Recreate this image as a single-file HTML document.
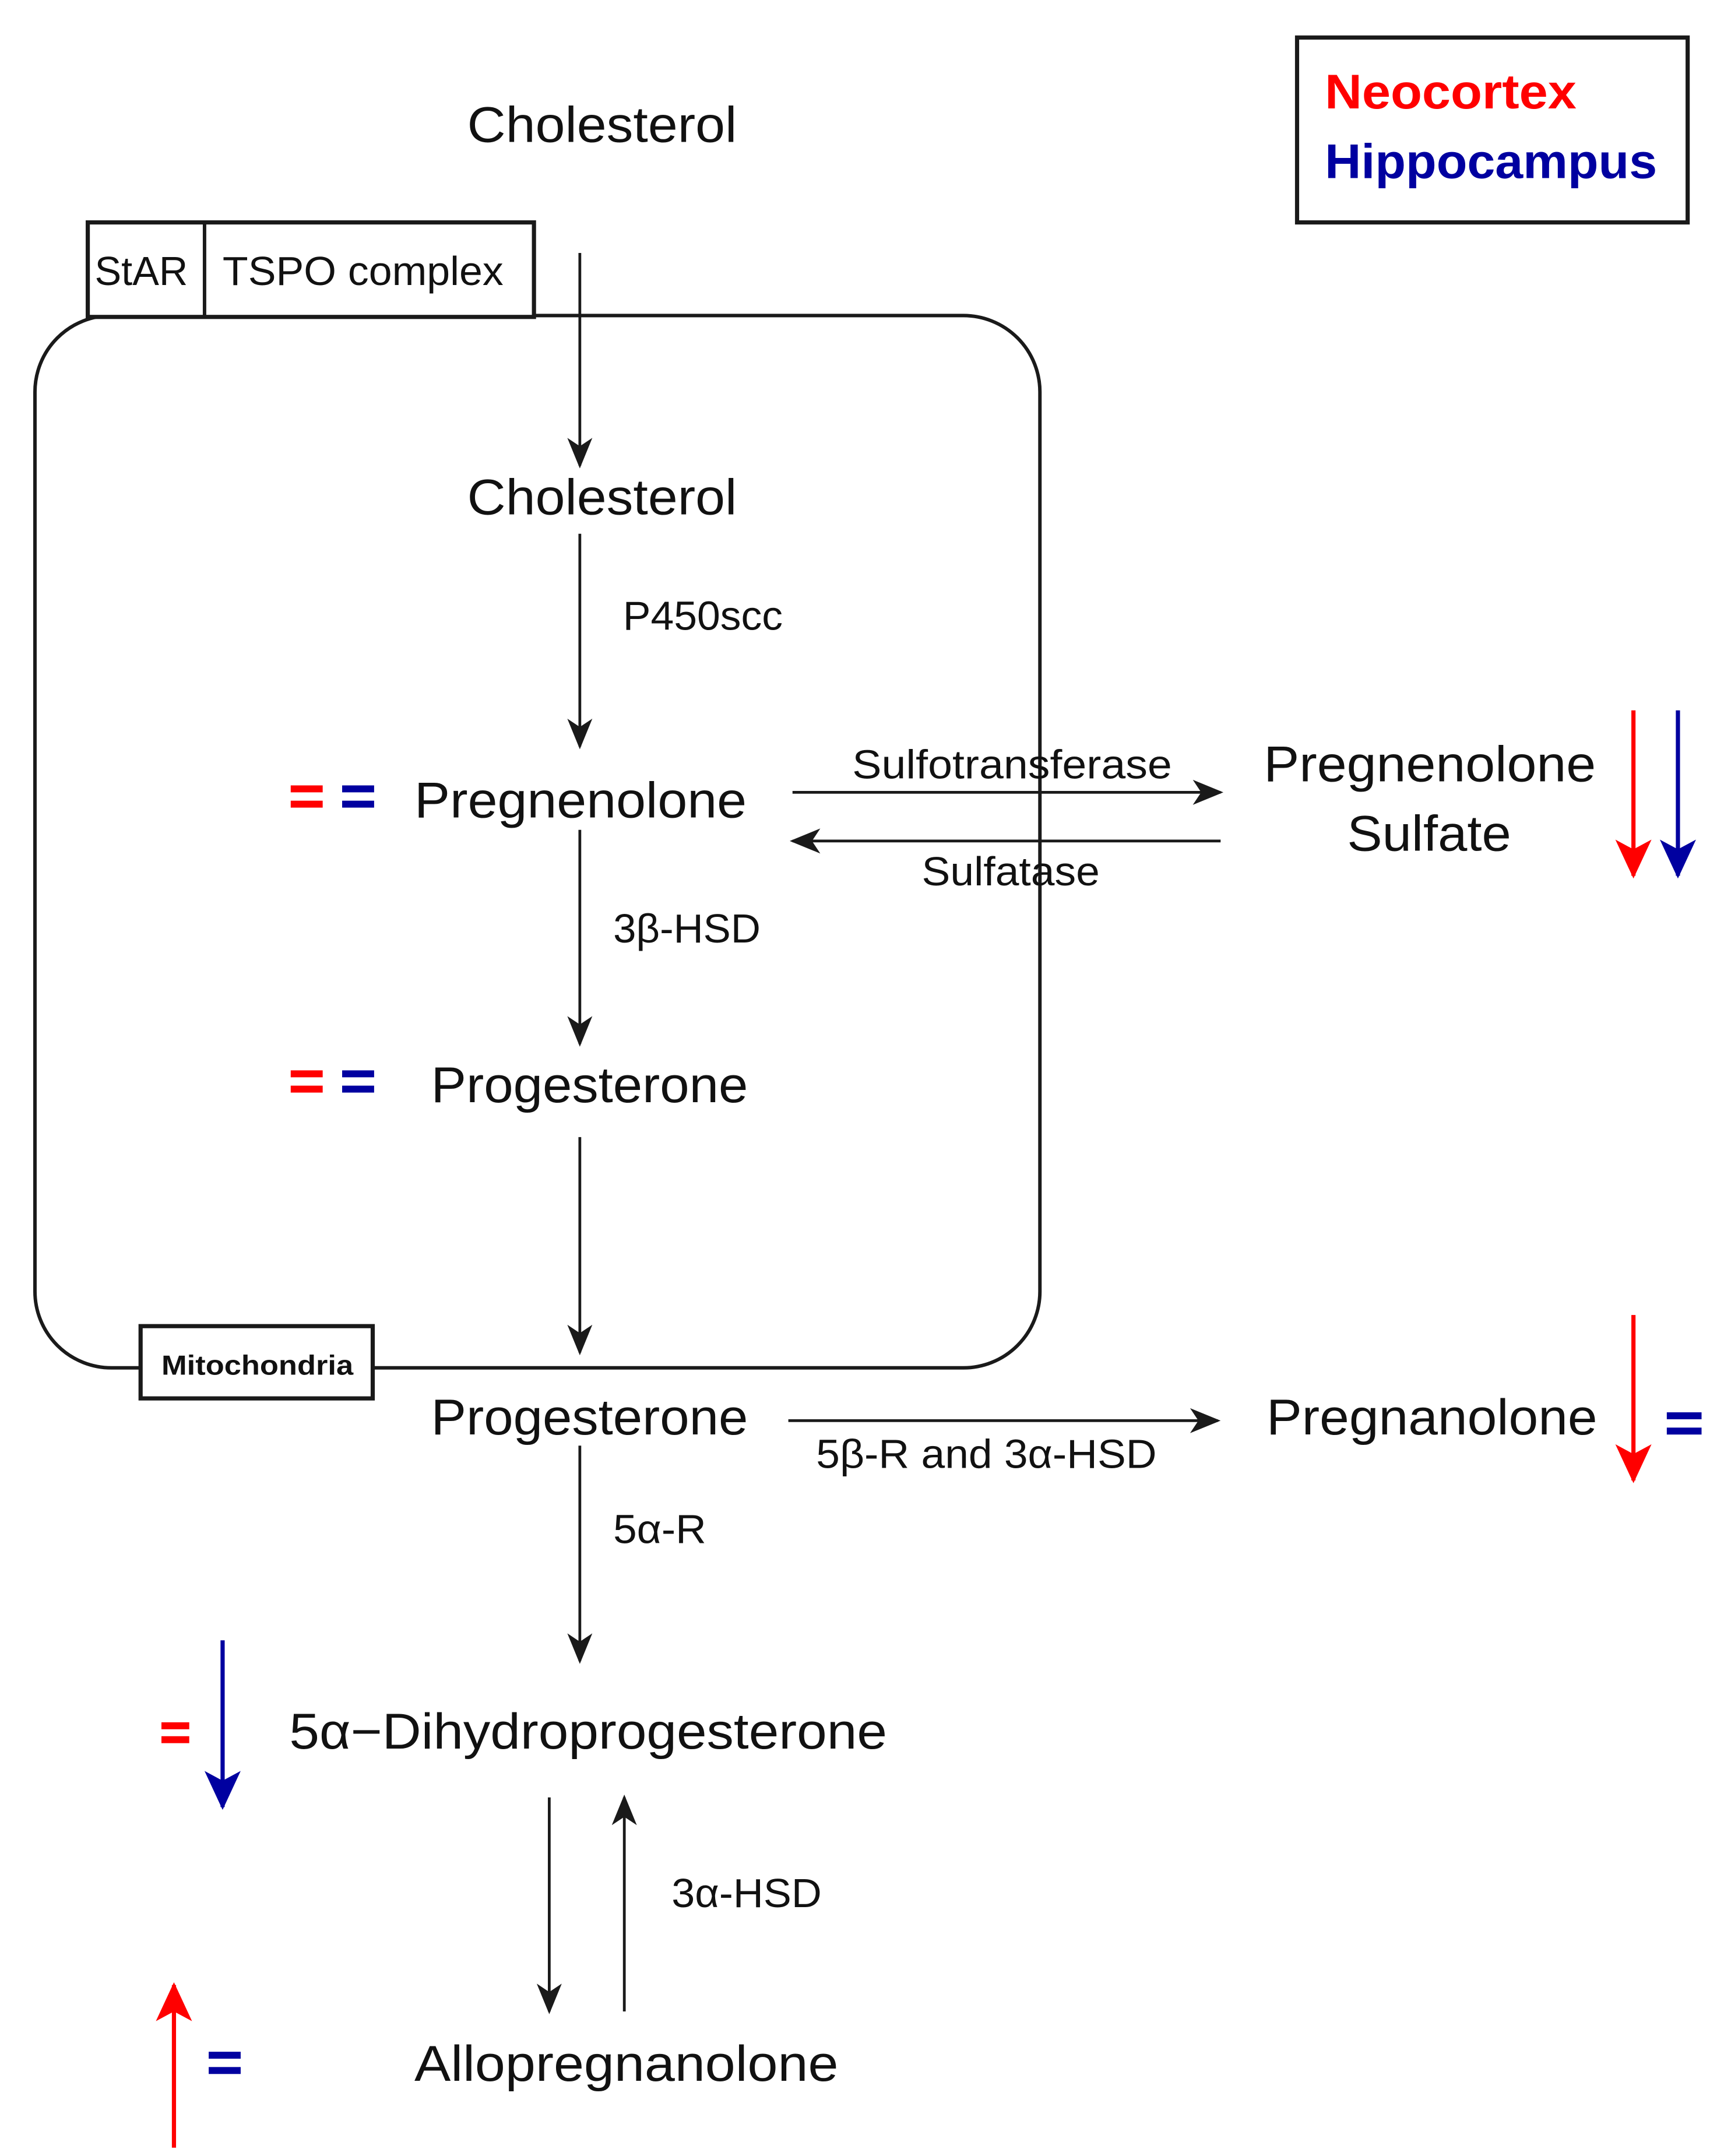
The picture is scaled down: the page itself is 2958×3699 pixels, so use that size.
<!DOCTYPE html>
<html><head><meta charset="utf-8"><style>html,body{margin:0;padding:0;background:#fff}svg{display:block}</style></head>
<body>
<svg width="2958" height="3699" viewBox="0 0 1240 1551" xmlns="http://www.w3.org/2000/svg" font-family="'Liberation Sans', sans-serif">
<defs>
<marker id="ab" markerWidth="10" markerHeight="10" refX="9" refY="5" orient="auto" markerUnits="userSpaceOnUse" viewBox="0 0 10 10"><path d="M0,0 L10,5 L0,10 L3,5 z" fill="#1a1a1a"/></marker>
<marker id="ak" markerWidth="22" markerHeight="22" refX="20" refY="11" orient="auto" markerUnits="userSpaceOnUse" viewBox="0 0 22 22"><path d="M0,2 L22,11 L0,20 L6,11 z" fill="#1a1a1a"/></marker>
<marker id="ar" markerWidth="28" markerHeight="28" refX="26" refY="14" orient="auto" markerUnits="userSpaceOnUse" viewBox="0 0 28 28"><path d="M0,1 L28,14 L0,27 L7,14 z" fill="#ff0000"/></marker>
<marker id="abl" markerWidth="28" markerHeight="28" refX="26" refY="14" orient="auto" markerUnits="userSpaceOnUse" viewBox="0 0 28 28"><path d="M0,1 L28,14 L0,27 L7,14 z" fill="#0000a0"/></marker>
</defs>
<g fill="none" stroke="#1a1a1a" stroke-width="2.5">
<rect x="25" y="227" width="723" height="757" rx="55" ry="55"/>
</g>
<rect x="63" y="160" width="321" height="68" fill="#fff" stroke="#1a1a1a" stroke-width="3"/>
<line x1="147" y1="160" x2="147" y2="228" stroke="#1a1a1a" stroke-width="2.5"/>
<rect x="101" y="954" width="167" height="52" fill="#fff" stroke="#1a1a1a" stroke-width="3"/>
<rect x="933" y="27" width="281" height="133" fill="none" stroke="#1a1a1a" stroke-width="3"/>
<g stroke="#1a1a1a" stroke-width="2" fill="none" marker-end="url(#ak)">
<line x1="417" y1="182" x2="417" y2="335"/>
<line x1="417" y1="384" x2="417" y2="537"/>
<line x1="417" y1="597" x2="417" y2="751"/>
<line x1="417" y1="818" x2="417" y2="973"/>
<line x1="417" y1="1040" x2="417" y2="1195"/>
<line x1="570" y1="570" x2="878" y2="570"/>
<line x1="878" y1="605" x2="570" y2="605"/>
<line x1="567" y1="1022" x2="876" y2="1022"/>
<line x1="395" y1="1293" x2="395" y2="1447"/>
<line x1="449" y1="1447" x2="449" y2="1293"/>
</g>
<g stroke-width="3" fill="none">
<line x1="1175" y1="511" x2="1175" y2="630" stroke="#ff0000" marker-end="url(#ar)"/>
<line x1="1207" y1="511" x2="1207" y2="630" stroke="#0000a0" marker-end="url(#abl)"/>
<line x1="1175" y1="946" x2="1175" y2="1065" stroke="#ff0000" marker-end="url(#ar)"/>
<line x1="160" y1="1180" x2="160" y2="1300" stroke="#0000a0" marker-end="url(#abl)"/>
<line x1="125" y1="1545" x2="125" y2="1428" stroke="#ff0000" marker-end="url(#ar)"/>
</g>
<g>
<rect x="209" y="565" width="23" height="5" fill="#ff0000"/><rect x="209" y="576" width="23" height="5" fill="#ff0000"/>
<rect x="246" y="565" width="23" height="5" fill="#0000a0"/><rect x="246" y="576" width="23" height="5" fill="#0000a0"/>
<rect x="209" y="770" width="23" height="5" fill="#ff0000"/><rect x="209" y="781" width="23" height="5" fill="#ff0000"/>
<rect x="246" y="770" width="23" height="5" fill="#0000a0"/><rect x="246" y="781" width="23" height="5" fill="#0000a0"/>
<rect x="1199" y="1016" width="25" height="5" fill="#0000a0"/><rect x="1199" y="1027" width="25" height="5" fill="#0000a0"/>
<rect x="116" y="1239" width="20" height="5" fill="#ff0000"/><rect x="116" y="1249" width="20" height="5" fill="#ff0000"/>
<rect x="150" y="1476" width="23" height="5" fill="#0000a0"/><rect x="150" y="1487" width="23" height="5" fill="#0000a0"/>
</g>
<g fill="#111" font-size="36">
<text x="336" y="102" textLength="194" lengthAdjust="spacingAndGlyphs">Cholesterol</text>
<text x="336" y="370" textLength="194" lengthAdjust="spacingAndGlyphs">Cholesterol</text>
<text x="298" y="588" textLength="239" lengthAdjust="spacingAndGlyphs">Pregnenolone</text>
<text x="909" y="562" textLength="239" lengthAdjust="spacingAndGlyphs">Pregnenolone</text>
<text x="969" y="612" textLength="118" lengthAdjust="spacingAndGlyphs">Sulfate</text>
<text x="310" y="793" textLength="228" lengthAdjust="spacingAndGlyphs">Progesterone</text>
<text x="310" y="1032" textLength="228" lengthAdjust="spacingAndGlyphs">Progesterone</text>
<text x="911" y="1032" textLength="238" lengthAdjust="spacingAndGlyphs">Pregnanolone</text>
<text x="208" y="1258" textLength="430" lengthAdjust="spacingAndGlyphs">5α−Dihydroprogesterone</text>
<text x="298" y="1497" textLength="305" lengthAdjust="spacingAndGlyphs">Allopregnanolone</text>
</g>
<g fill="#111" font-size="29">
<text x="68" y="205" textLength="67" lengthAdjust="spacingAndGlyphs">StAR</text>
<text x="160" y="205" textLength="202" lengthAdjust="spacingAndGlyphs">TSPO complex</text>
<text x="448" y="453" textLength="115" lengthAdjust="spacingAndGlyphs">P450scc</text>
<text x="613" y="560" textLength="230" lengthAdjust="spacingAndGlyphs">Sulfotransferase</text>
<text x="663" y="637" textLength="128" lengthAdjust="spacingAndGlyphs">Sulfatase</text>
<text x="441" y="678" textLength="106" lengthAdjust="spacingAndGlyphs">3β-HSD</text>
<text x="587" y="1056" textLength="245" lengthAdjust="spacingAndGlyphs">5β-R and 3α-HSD</text>
<text x="441" y="1110" textLength="67" lengthAdjust="spacingAndGlyphs">5α-R</text>
<text x="483" y="1372" textLength="108" lengthAdjust="spacingAndGlyphs">3α-HSD</text>
</g>
<text x="116" y="989" font-size="20" font-weight="bold" fill="#111" textLength="138" lengthAdjust="spacingAndGlyphs">Mitochondria</text>
<text x="953" y="78" font-size="35" font-weight="bold" fill="#ff0000" textLength="181" lengthAdjust="spacingAndGlyphs">Neocortex</text>
<text x="953" y="128" font-size="35" font-weight="bold" fill="#0000a0" textLength="239" lengthAdjust="spacingAndGlyphs">Hippocampus</text>
</svg>
</body></html>
